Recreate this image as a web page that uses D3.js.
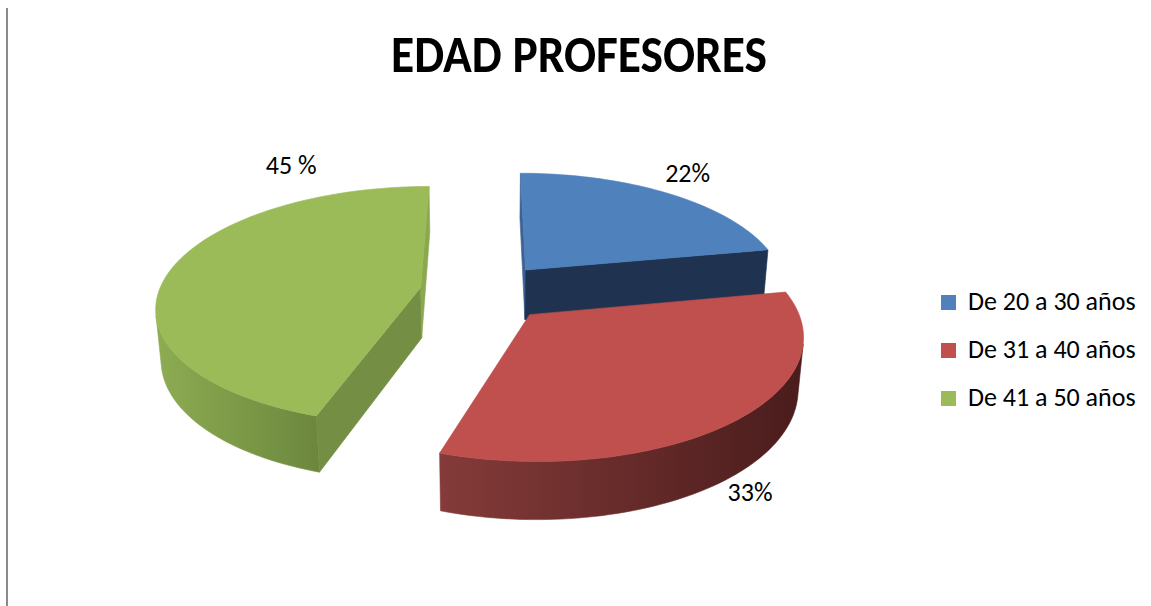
<!DOCTYPE html>
<html><head><meta charset="utf-8">
<script src="https://cdn.jsdelivr.net/npm/d3@7"></script>
<style>body{margin:0;background:#fff} svg{display:block}</style>
</head><body>
<svg id="chart" width="1151" height="606"></svg>
<script>
// ---- data ----
const chartTitle = "EDAD PROFESORES";
const categories = ["De 20 a 30 años", "De 31 a 40 años", "De 41 a 50 años"];
const values = [22, 33, 45];
const valueLabels = ["22%", "33%", "45 %"];

// ---- styles ----
const topColors  = ["#4f81bd", "#c0504d", "#9bbb59"];
const wallColors = [["#3a5f8c", "#26406a"], ["#843b39", "#4a1c1c"], ["#8dac52", "#6c873d"]];
const startFaceColors = ["#3d6396", "#7a3634", "#748e43"];
const endFaceColors   = ["#1f3350", "#6e2c2a", "#8aa84f"];
const fontFam = "Carlito, Calibri, 'Open Sans', sans-serif";

// ---- 3D projection ----
const cx = 485, cy = 292, f = 1564, D = 5.97;
const sa = 0.448, ca = Math.sqrt(1 - sa * sa);
const H = 0.22, EXPLODE = 0.25;
const cam = [0, D * sa, D * ca];
function project(X, Y, Z) {
  const depth = D - Z * ca - Y * sa;
  return [cx + f * X / depth, cy + f * (Z * sa - Y * ca) / depth];
}
function facing(n, P) {
  return n[0] * (cam[0] - P[0]) + n[1] * (cam[1] - P[1]) + n[2] * (cam[2] - P[2]) > 0;
}

const svg = d3.select("#chart");
const defs = svg.append("defs");

// left border line
svg.append("line").attr("x1", 7).attr("x2", 7).attr("y1", 8).attr("y2", 606)
  .attr("stroke", "#8a8a8a").attr("stroke-width", 2);

// title
svg.append("text").attr("x", 579).attr("y", 72).attr("text-anchor", "middle")
  .attr("font-family", fontFam).attr("font-weight", "bold").attr("font-size", 52)
  .attr("textLength", 376).attr("lengthAdjust", "spacingAndGlyphs")
  .attr("fill", "#000").text(chartTitle);

const pie = d3.pie().sort(null).startAngle(0).endAngle(2 * Math.PI);
const arcs = pie(values);

const line = d3.line().curve(d3.curveLinearClosed);

const slices = arcs.map((a, i) => {
  const mid = (a.startAngle + a.endAngle) / 2;
  const ox = EXPLODE * Math.sin(mid), oz = -EXPLODE * Math.cos(mid);
  return {a, i, mid, ox, oz, depth: D - oz * ca};
});
slices.sort((p, q) => q.depth - p.depth);

const N = 240;
slices.forEach(s => {
  const {a, i, ox, oz} = s;
  const g = svg.append("g");
  const rim = (t, Y) => [ox + Math.sin(t), Y, oz - Math.cos(t)];
  const ctr = Y => [ox, Y, oz];
  const P = p => project(p[0], p[1], p[2]);

  // outer wall: visible runs
  const steps = Math.max(8, Math.round(N * (a.endAngle - a.startAngle) / (2 * Math.PI)));
  const ts = d3.range(steps + 1).map(k => a.startAngle + (a.endAngle - a.startAngle) * k / steps);
  let runs = [], cur = null;
  for (let k = 0; k < steps; k++) {
    const tm = (ts[k] + ts[k + 1]) / 2;
    const vis = facing([Math.sin(tm), 0, -Math.cos(tm)], rim(tm, -H / 2));
    if (vis) { if (!cur) { cur = [ts[k]]; runs.push(cur); } cur.push(ts[k + 1]); }
    else cur = null;
  }
  runs.forEach((run, r) => {
    const pts = run.map(t => P(rim(t, 0))).concat(run.slice().reverse().map(t => P(rim(t, -H))));
    const xs = pts.map(p => p[0]);
    const id = `wall${i}_${r}`;
    const gr = defs.append("linearGradient").attr("id", id).attr("gradientUnits", "userSpaceOnUse")
      .attr("x1", d3.min(xs)).attr("x2", d3.max(xs)).attr("y1", 0).attr("y2", 0);
    gr.append("stop").attr("offset", 0).attr("stop-color", wallColors[i][0]);
    gr.append("stop").attr("offset", 1).attr("stop-color", wallColors[i][1]);
    g.append("path").attr("d", line(pts)).attr("fill", `url(#${id})`)
      .attr("stroke", `url(#${id})`).attr("stroke-width", 0.6);
  });

  // cut faces
  [[a.startAngle, a.startAngle - Math.PI / 2, startFaceColors[i]], [a.endAngle, a.endAngle + Math.PI / 2, endFaceColors[i]]]
    .forEach(([t, nt, col]) => {
      if (a.endAngle - a.startAngle >= 2 * Math.PI - 1e-6) return;
      const n = [Math.sin(nt), 0, -Math.cos(nt)];
      const mp = [ox + 0.5 * Math.sin(t), -H / 2, oz - 0.5 * Math.cos(t)];
      if (!facing(n, mp)) return;
      const pts = [P(ctr(0)), P(rim(t, 0)), P(rim(t, -H)), P(ctr(-H))];
      g.append("path").attr("d", line(pts)).attr("fill", col).attr("stroke", col).attr("stroke-width", 0.6);
    });

  // top face
  const topPts = [P(ctr(0))].concat(ts.map(t => P(rim(t, 0))));
  g.append("path").attr("d", line(topPts)).attr("fill", topColors[i])
    .attr("stroke", topColors[i]).attr("stroke-width", 0.6);
});

// data labels (placement around each slice)
const labelPlace = [{deg: 37, r: 1.25, lvl: 0}, {deg: 140, r: 1.1, lvl: -1}, {deg: 333, r: 1.4, lvl: 0}];
slices.forEach(s => {
  const lp = labelPlace[s.i];
  const t = lp.deg * Math.PI / 180;
  const p = project(s.ox + lp.r * Math.sin(t), lp.lvl * H, s.oz - lp.r * Math.cos(t));
  svg.append("text").attr("x", p[0]).attr("y", p[1]).attr("dy", "0.33em")
    .attr("text-anchor", "middle").attr("font-family", fontFam).attr("font-size", 26)
    .attr("fill", "#000").text(valueLabels[s.i]);
});

// legend
const lg = svg.append("g");
categories.forEach((c, i) => {
  lg.append("rect").attr("x", 941).attr("y", 295 + 48 * i).attr("width", 15).attr("height", 15)
    .attr("fill", topColors[i]);
  lg.append("text").attr("x", 968).attr("y", 310 + 48 * i).attr("font-family", fontFam)
    .attr("font-size", 26).attr("fill", "#000").text(c);
});
</script>
</body></html>
